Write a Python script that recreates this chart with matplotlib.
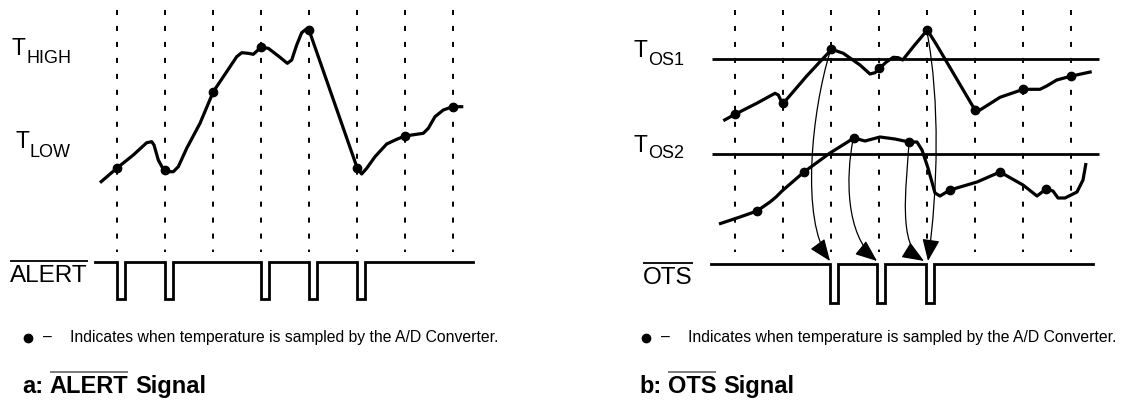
import numpy as np
import matplotlib
matplotlib.use("Agg")
import matplotlib.pyplot as plt
from matplotlib.path import Path
from matplotlib.patches import FancyArrowPatch

plt.rcParams['font.family'] = 'Liberation Sans'
plt.rcParams['lines.scale_dashes'] = False

W, H = 1127, 401

# sample instants of the A/D converter (panel a); panel b uses the same grid shifted
sample_x = [117, 165, 213, 261, 309, 357, 405, 453]
shift_b = 618
dash_top, dash_bottom = 10, 252

# ---- panel a: temperature trace and ALERT output
temp_a_x = [100.0, 116.7, 133.3, 146.7, 151.7, 154.0, 158.3, 163.3, 166.7, 173.3, 178.3,
            186.7, 200.0, 213.3, 226.7, 236.7, 241.7, 248.3, 253.3, 261.0, 268.3, 280.0,
            287.3, 291.7, 296.7, 301.7, 306.0, 309.0, 357.3, 361.7, 366.7, 375.0, 386.7,
            396.7, 405.0, 423.3, 428.3, 435.0, 443.3, 452.7, 463.3]
temp_a_y = [182.7, 168.3, 155.0, 142.7, 141.7, 145.0, 160.0, 169.3, 171.7, 171.7, 166.7,
            148.3, 123.3, 91.7, 71.7, 56.7, 52.7, 53.3, 54.3, 47.3, 48.3, 57.3,
            63.3, 60.0, 45.0, 32.7, 29.3, 30.0, 168.3, 174.0, 168.3, 156.7, 144.0,
            139.3, 136.0, 133.3, 128.3, 116.7, 110.0, 106.7, 106.7]
dots_a_y = [168.3, 170.0, 91.7, 47.3, 30.0, 168.3, 136.0, 106.7]

alert_pulse_idx = [0, 1, 3, 4, 5]
pulse_a_w = 8
alert_hi, alert_lo = 262, 299
alert_x0, alert_x1 = 95, 473

# ---- panel b: two temperature traces, OS thresholds and OTS output
tos1_y, tos2_y = 59, 154
tos_x0, tos_x1 = 712, 1099

temp_b1_x = [723.3, 735.0, 756.7, 775.0, 778.3, 780.7, 783.3, 806.7, 820.0, 831.7, 843.3,
             860.0, 870.0, 875.0, 879.3, 886.7, 893.3, 898.3, 902.7, 913.3, 927.3, 936.7,
             975.0, 980.0, 1000.0, 1023.3, 1040.0, 1046.7, 1056.7, 1071.7, 1091.7]
temp_b1_y = [120.7, 114.3, 103.3, 93.3, 95.0, 100.0, 103.3, 76.0, 61.7, 49.3, 53.3,
             65.0, 74.0, 72.7, 68.3, 61.7, 57.3, 57.7, 60.0, 46.7, 30.0, 45.0,
             110.0, 110.0, 97.3, 89.3, 89.3, 86.0, 80.0, 76.0, 71.7]
dots_b1_y = [114.3, 103.3, 49.3, 68.3, 30.0, 110.0, 89.3, 76.0]

temp_b2_x = [719, 740, 757, 770, 776, 782, 804, 830, 854, 865, 880, 895, 909, 917, 922,
             928, 935, 940, 950, 977, 1000, 1023, 1037, 1046, 1053, 1058, 1065, 1077,
             1083, 1086]
temp_b2_y = [224, 217, 211, 202, 197, 191, 172, 153, 138, 141, 137, 139, 142, 142, 150,
             168, 193, 196, 190, 182, 172, 185, 196, 189, 191, 198, 198, 192,
             180, 163]
dots_b2_x = [757, 804, 854, 909, 950, 1000, 1046]
dots_b2_y = [211, 172, 138, 142, 190, 172, 189]

ots_pulse_x = [830, 877, 926]
pulse_b_w = 8
ots_hi, ots_lo = 264, 303
ots_x0, ots_x1 = 711, 1093

# threshold crossings -> OTS edges (start, ctrl1, ctrl2, end)
arrows_b = [
    [(830, 52), (812, 110), (800, 220), (830, 261)],
    [(853, 140), (846, 175), (845, 235), (877, 261)],
    [(909, 143), (906, 190), (898, 245), (924, 261)],
    [(927, 32), (940, 100), (938, 190), (928, 261)],
]

note = "Indicates when temperature is sampled by the A/D Converter."

fig = plt.figure(figsize=(W / 100, H / 100), dpi=100)
ax = fig.add_axes([0, 0, 1, 1])
ax.set_xlim(0, W)
ax.set_ylim(H, 0)
ax.axis('off')

renderer = fig.canvas.get_renderer()
inv = ax.transData.inverted()


def square_wave(x0, x1, starts, width, hi, lo):
    xs, ys = [x0], [hi]
    for s in starts:
        xs += [s, s, s + width, s + width]
        ys += [hi, lo, lo, hi]
    xs.append(x1)
    ys.append(hi)
    return xs, ys


def right_edge(t):
    bb = t.get_window_extent(renderer)
    return inv.transform((bb.x1, bb.y0))[0]


def overline(t, y, lw=1.3, color='black'):
    bb = t.get_window_extent(renderer)
    xa = inv.transform((bb.x0, bb.y0))[0]
    xb = inv.transform((bb.x1, bb.y0))[0]
    ax.plot([xa, xb], [y, y], color=color, lw=lw, solid_capstyle='butt')


def t_label(x, y, sub, sub_dy):
    t = ax.text(x, y, "T", fontsize=16.5, ha='left', va='baseline')
    ax.text(right_edge(t) + 0.5, y + sub_dy, sub, fontsize=13, ha='left', va='baseline')


def title(x, y, pre, over, post):
    sp = 0.278 * 17 / 0.72
    t1 = ax.text(x, y, pre, fontsize=17, fontweight='bold', ha='left', va='baseline')
    t2 = ax.text(right_edge(t1) + sp, y, over, fontsize=17, fontweight='bold',
                 ha='left', va='baseline')
    overline(t2, y - 21, lw=1.2, color='#666666')
    ax.text(right_edge(t2) + sp, y, post, fontsize=17, fontweight='bold',
            ha='left', va='baseline')


def footnote(x, y):
    ax.plot([x], [y], 'o', color='black', ms=6)
    ax.text(x + 15, y + 4, "\u2013", fontsize=11.3, ha='left', va='baseline')
    ax.text(x + 42, y + 4, note, fontsize=11.3, ha='left', va='baseline')


dash = (0, (3.6, 7.9))

# ---------- panel a ----------
ax.vlines(sample_x, dash_top, dash_bottom, colors='black', lw=1.4, linestyles=[dash])
ax.plot(temp_a_x, temp_a_y, color='black', lw=2.3, solid_joinstyle='round',
        solid_capstyle='butt')
ax.plot(sample_x, dots_a_y, 'o', color='black', ms=6)

xs, ys = square_wave(alert_x0, alert_x1, [sample_x[i] for i in alert_pulse_idx],
                     pulse_a_w, alert_hi, alert_lo)
ax.plot(xs, ys, color='black', lw=2.0, solid_joinstyle='miter')

t_label(12, 55, "HIGH", 8)
t_label(15, 148, "LOW", 9)

lab = ax.text(10, 281.7, "ALERT", fontsize=17.5, ha='left', va='baseline')
overline(lab, 261)

footnote(28, 338)
title(22, 393, "a:", "ALERT", "Signal")

# ---------- panel b ----------
sample_b = [x + shift_b for x in sample_x]
ax.vlines(sample_b, dash_top, dash_bottom, colors='black', lw=1.4, linestyles=[dash])
ax.hlines([tos1_y, tos2_y], tos_x0, tos_x1, colors='black', lw=2.0)

ax.plot(temp_b1_x, temp_b1_y, color='black', lw=2.3, solid_joinstyle='round',
        solid_capstyle='butt')
ax.plot(sample_b, dots_b1_y, 'o', color='black', ms=6)
ax.plot(temp_b2_x, temp_b2_y, color='black', lw=2.3, solid_joinstyle='round',
        solid_capstyle='butt')
ax.plot(dots_b2_x, dots_b2_y, 'o', color='black', ms=6)

for pts in arrows_b:
    path = Path(pts, [Path.MOVETO, Path.CURVE4, Path.CURVE4, Path.CURVE4])
    arr = FancyArrowPatch(path=path, arrowstyle='-|>,head_length=0.75,head_width=0.3',
                          mutation_scale=18, color='black', lw=0.9)
    ax.add_patch(arr)

xs, ys = square_wave(ots_x0, ots_x1, ots_pulse_x, pulse_b_w, ots_hi, ots_lo)
ax.plot(xs, ys, color='black', lw=2.0, solid_joinstyle='miter')

t_label(634, 56.7, "OS1", 8.3)
t_label(634, 151.7, "OS2", 6.6)

lab = ax.text(643, 284, "OTS", fontsize=17.5, ha='left', va='baseline')
overline(lab, 263.3)

footnote(28 + shift_b, 338)
title(22 + shift_b - 1, 393, "b:", "OTS", "Signal")

fig.savefig("out.png", dpi=100)
